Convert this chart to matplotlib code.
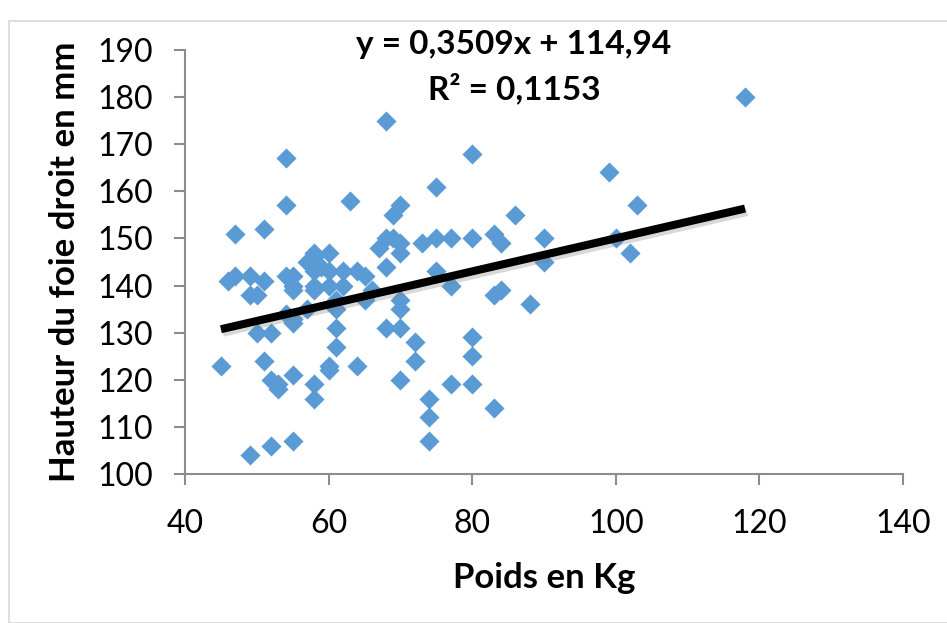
import numpy as np
import matplotlib
matplotlib.use('Agg')
import matplotlib.pyplot as plt
import matplotlib.patheffects as pe
from matplotlib.patches import Rectangle

plt.rcParams['font.family'] = ['Lato', 'DejaVu Sans']

# poids (kg) et hauteur du foie droit (mm)
poids = [45, 46, 47, 47, 49, 49, 49, 50, 50, 51, 51, 51, 52, 52, 52, 53, 53,
         54, 54, 54, 54, 55, 55, 55, 55, 55, 55, 55, 57, 57, 58, 58, 58, 58,
         58, 58, 58, 59, 60, 60, 60, 60, 60, 61, 61, 61, 61, 62, 62, 63, 64,
         64, 65, 65, 66, 67, 68, 68, 68, 68, 69, 69, 70, 70, 70, 70, 70, 70,
         70, 72, 72, 73, 74, 74, 74, 75, 75, 75, 77, 77, 77, 80, 80, 80, 80,
         80, 83, 83, 83, 84, 84, 86, 88, 90, 90, 99, 100, 102, 103, 118]
hauteur = [123, 141, 142, 151, 142, 138, 104, 138, 130, 141, 152, 124, 130,
           120, 106, 119, 118, 167, 157, 142, 134, 142, 140, 139, 133, 132,
           121, 107, 145, 135, 147, 146, 143, 140, 139, 119, 116, 144, 147,
           143, 140, 123, 122, 137, 135, 131, 127, 143, 140, 158, 143, 123,
           142, 137, 139, 148, 175, 150, 144, 131, 155, 150, 157, 149, 147,
           137, 135, 131, 120, 128, 124, 149, 116, 112, 107, 161, 150, 143,
           150, 140, 119, 168, 150, 129, 125, 119, 151, 138, 114, 149, 139,
           155, 136, 150, 145, 164, 150, 147, 157, 180]

pente = 0.3509
ordonnee = 114.94
r2 = 0.1153

fig = plt.figure(figsize=(9.47, 6.23), dpi=100)
fig.patches.append(Rectangle((9 / 947, 0), 1, 1 - 21 / 623, transform=fig.transFigure,
                             fill=False, edgecolor='#d9d9d9', lw=1.2))
ax = fig.add_axes([185 / 947, 1 - 474 / 623, (903 - 185) / 947, (474 - 50) / 623])

ax.scatter(poids, hauteur, marker='D', s=105, color='#5b9bd5', linewidths=0, zorder=3)

xs = np.array([min(poids), max(poids)])
ax.plot(xs, pente * xs + ordonnee, color='black', lw=5.8, solid_capstyle='butt', zorder=4,
        path_effects=[pe.SimpleLineShadow(offset=(1.5, -2.5), shadow_color='gray', alpha=0.3),
                      pe.Normal()])

ax.set_xlim(40, 140)
ax.set_ylim(100, 190)
ax.set_xticks(np.arange(40, 141, 20))
ax.set_yticks(np.arange(100, 191, 10))

for s in ['top', 'right']:
    ax.spines[s].set_visible(False)
for s in ['left', 'bottom']:
    ax.spines[s].set_color('#8c8c8c')
    ax.spines[s].set_linewidth(1.5)

ax.tick_params(axis='both', direction='out', length=8, width=1.5, color='#8c8c8c',
               labelsize=23, labelcolor='black')
ax.tick_params(axis='x', pad=17)
ax.tick_params(axis='y', pad=15)

ax.set_xlabel('Poids en Kg', fontsize=25, fontweight='bold', labelpad=17)
ax.set_ylabel('Hauteur du foie droit en mm', fontsize=25, fontweight='bold', labelpad=12)

ax.text(0.457, 1.012, f'y = {pente:.4f}x + {ordonnee:.2f}'.replace('.', ','),
        transform=ax.transAxes, ha='center', va='center', fontsize=24, fontweight='bold')
ax.text(0.459, 0.910, f'R² = {r2:.4f}'.replace('.', ','),
        transform=ax.transAxes, ha='center', va='center', fontsize=24, fontweight='bold')

fig.savefig('out.png', dpi=100)
